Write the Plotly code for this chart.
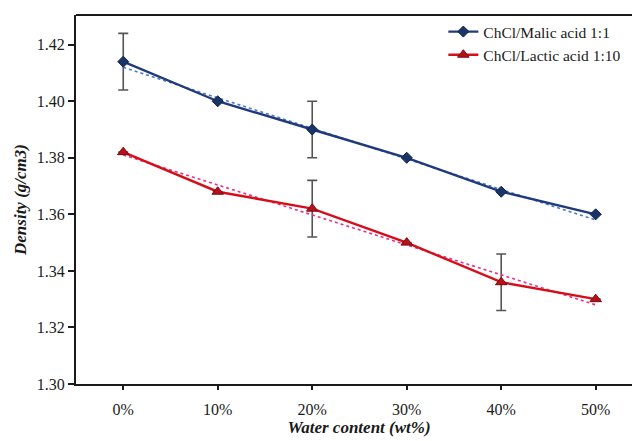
import plotly.graph_objects as go

categories = ["0%", "10%", "20%", "30%", "40%", "50%"]
malic = [1.414, 1.400, 1.390, 1.380, 1.368, 1.360]
malic_err = [0.010, 0, 0.010, 0, 0, 0]
lactic = [1.382, 1.368, 1.362, 1.350, 1.336, 1.330]
lactic_err = [0, 0, 0.010, 0, 0.010, 0]
trend_x = ["0%", "50%"]
malic_trend = [1.412, 1.358]
lactic_trend = [1.381, 1.328]
y_ticks = [1.30, 1.32, 1.34, 1.36, 1.38, 1.40, 1.42]

FONT = "Liberation Serif, Times New Roman, serif"

fig = go.Figure()

fig.add_trace(go.Scatter(
    x=categories, y=malic, mode="markers", marker=dict(opacity=0, size=1),
    error_y=dict(type="data", array=malic_err, visible=True, color="#555555", thickness=1.6, width=5),
    showlegend=False, hoverinfo="skip"))
fig.add_trace(go.Scatter(
    x=categories, y=lactic, mode="markers", marker=dict(opacity=0, size=1),
    error_y=dict(type="data", array=lactic_err, visible=True, color="#555555", thickness=1.6, width=5),
    showlegend=False, hoverinfo="skip"))

fig.add_trace(go.Scatter(x=trend_x, y=malic_trend, mode="lines",
                         line=dict(color="#4a78d0", width=1.6, dash="dot"),
                         showlegend=False, hoverinfo="skip"))
fig.add_trace(go.Scatter(x=trend_x, y=lactic_trend, mode="lines",
                         line=dict(color="#e8308a", width=1.6, dash="dot"),
                         showlegend=False, hoverinfo="skip"))

fig.add_trace(go.Scatter(
    x=categories, y=malic, mode="lines+markers", name="ChCl/Malic acid 1:1",
    line=dict(color="#1f3a7d", width=2.4),
    marker=dict(symbol="diamond", size=8.5, color="#1a3466", line=dict(color="#10244d", width=1))))
fig.add_trace(go.Scatter(
    x=categories, y=lactic, mode="lines+markers", name="ChCl/Lactic acid 1:10",
    line=dict(color="#d40f1a", width=2.4),
    marker=dict(symbol="triangle-up", size=10, color="#b8101a", line=dict(color="#7a0a10", width=1))))

# top frame line of the plot area
fig.add_shape(type="line", xref="paper", yref="paper", x0=0, x1=1, y0=1, y1=1,
              line=dict(color="#1a1a1a", width=2), layer="above")

fig.update_layout(
    width=642, height=441,
    margin=dict(l=76, r=0, t=15, b=57, autoexpand=False),
    paper_bgcolor="white", plot_bgcolor="white",
    font=dict(family=FONT, size=16, color="#1a1a1a"),
    showlegend=True,
    legend=dict(x=0.649, y=1.0, xanchor="left", yanchor="top",
                font=dict(family=FONT, size=15.5, color="#1a1a1a"),
                bgcolor="rgba(0,0,0,0)", tracegroupgap=0, itemwidth=30),
    xaxis=dict(type="category", categoryorder="array", categoryarray=categories,
               range=[-0.5, 5.49],
               showline=True, linecolor="#1a1a1a", linewidth=2, mirror=False,
               ticks="outside", ticklen=4, tickwidth=1.5, tickcolor="#1a1a1a",
               ticklabelstandoff=6,
               showgrid=False, zeroline=False, automargin=False,
               title=dict(text="<b><i>Water content (wt%)</i></b>", standoff=3,
                          font=dict(family=FONT, size=17))),
    yaxis=dict(range=[1.30, 1.4305], tickvals=y_ticks, tickformat=".2f",
               showline=True, linecolor="#1a1a1a", linewidth=2,
               ticks="outside", ticklen=6, tickwidth=1.5, tickcolor="#1a1a1a",
               showgrid=False, zeroline=False, automargin=False,
               title=dict(text="<b><i>Density (g/cm3)</i></b>", standoff=6,
                          font=dict(family=FONT, size=17))),
)

fig.write_html("out.html", config={"displayModeBar": False},
               post_script="document.body.style.margin='0px';document.body.style.padding='0px';document.body.style.overflow='hidden';")
